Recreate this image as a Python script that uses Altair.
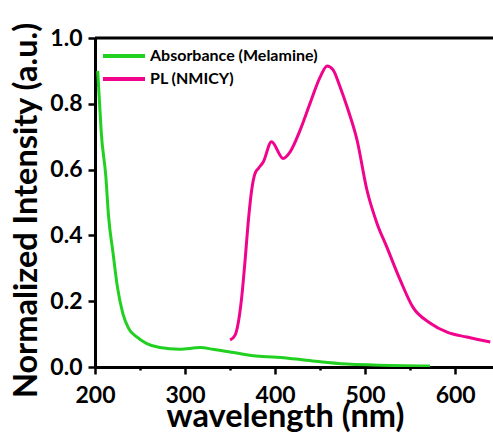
import altair as alt
import pandas as pd

# Absorbance (Melamine)
abs_wl = [203, 204.4, 207, 212, 215, 220, 224.8, 230.8, 237, 246, 257, 272, 294, 317,
          331, 354, 376, 402, 428, 450, 480, 509, 572]
abs_val = [0.90, 0.833, 0.71, 0.58, 0.46, 0.347, 0.245, 0.164, 0.119, 0.092, 0.072, 0.059,
           0.054, 0.059, 0.054, 0.044, 0.034, 0.030, 0.023, 0.016, 0.009, 0.006, 0.003]

# PL (NMICY)
pl_wl = [350, 355.6, 359, 363, 366.7, 370.4, 374, 377.8, 381.5, 387, 396, 409, 416.7,
         427.8, 438.9, 450, 457.8, 464.4, 472.2, 480, 491, 502, 513, 524, 539, 553,
         572, 591, 613, 639]
pl_val = [0.082, 0.097, 0.133, 0.214, 0.325, 0.447, 0.538, 0.589, 0.604, 0.624, 0.685,
          0.634, 0.654, 0.720, 0.802, 0.881, 0.915, 0.903, 0.851, 0.790, 0.690, 0.538,
          0.438, 0.365, 0.264, 0.182, 0.134, 0.106, 0.091, 0.076]

series_names = ["Absorbance (Melamine)", "PL (NMICY)"]
series_colors = ["#22D022", "#F0048C"]

x_ticks = [200, 250, 300, 350, 400, 450, 500, 550, 600]
y_ticks = [0.0, 0.1, 0.2, 0.3, 0.4, 0.5, 0.6, 0.7, 0.8, 0.9, 1.0]

df = pd.concat([
    pd.DataFrame({"wl": abs_wl, "val": abs_val, "series": series_names[0]}),
    pd.DataFrame({"wl": pl_wl, "val": pl_val, "series": series_names[1]}),
])

FONT = "Lato"

x_axis = alt.Axis(
    title="wavelength (nm)", values=x_ticks, format="d",
    labelExpr="datum.value % 100 === 0 ? datum.label : ''",
    tickSize={"condition": {"test": "datum.value % 100 === 0", "value": 7}, "value": 3},
    labelPadding=10, titleBaseline="alphabetic", titleY=59, titleX=190,
    labelFlush=False, labelOverlap=False,
)
y_axis = alt.Axis(
    title="Normalized Intensity (a.u.)", values=y_ticks, format=".1f",
    labelExpr="round(datum.value * 10) % 2 === 0 ? datum.label : ''",
    tickSize={"condition": {"test": "round(datum.value * 10) % 2 === 0", "value": 7}, "value": 3},
    labelPadding=6, titlePadding=6, titleY=172,
    labelFlush=False, labelOverlap=False,
)

lines = alt.Chart(df).mark_line(strokeWidth=3, clip=True, interpolate="monotone").encode(
    x=alt.X("wl:Q", scale=alt.Scale(domain=[200, 642], nice=False, zero=False), axis=x_axis),
    y=alt.Y("val:Q", scale=alt.Scale(domain=[0, 1.0], nice=False), axis=y_axis),
    color=alt.Color(
        "series:N",
        scale=alt.Scale(domain=series_names, range=series_colors),
        legend=alt.Legend(
            title=None, orient="none", legendX=20, legendY=9,
            symbolType="M-3,0H3", symbolSize=196, symbolStrokeWidth=4,
            labelFont=FONT, labelFontWeight="bold", labelFontSize=16, labelColor="black",
            labelOffset=17, rowPadding=6, padding=0, labelLimit=0,
        ),
    ),
)

top = alt.Chart(pd.DataFrame({"y": [1.0]})).mark_rule(color="black", strokeWidth=3).encode(
    y=alt.Y("y:Q")
)

chart = alt.layer(lines, top).properties(
    width=398, height=329,
    padding={"left": 95, "top": 38, "right": 0, "bottom": 66},
    autosize=alt.AutoSizeParams(type="none"),
    background="white",
).configure_view(stroke=None).configure_axis(
    domainColor="black", domainWidth=3, tickColor="black", tickWidth=2.5,
    labelFont=FONT, labelFontWeight="bold", labelFontSize=23, labelColor="black",
    titleFont=FONT, titleFontWeight="bold", titleFontSize=32.5, titleColor="black",
    grid=False,
)

chart.save("out.html", embed_options={"renderer": "svg", "actions": False})
